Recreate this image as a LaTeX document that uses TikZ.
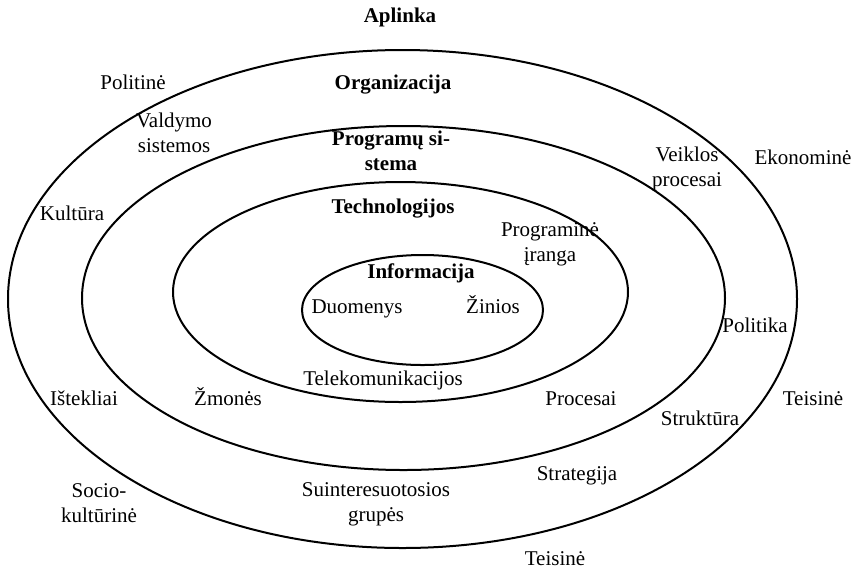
\documentclass[tikz,border=0pt]{standalone}
\usepackage{fontspec}
\setmainfont{LiberationSerif}[Extension=.ttf,UprightFont=*-Regular,BoldFont=*-Bold,ItalicFont=*-Italic,BoldItalicFont=*-BoldItalic]
\begin{document}
\begin{tikzpicture}[x=0.5pt,y=-0.5pt,
  ring/.style={line width=1pt},
  lbl/.style={inner sep=0pt,align=center,font=\fontsize{10.5}{12.5}\selectfont},
  head/.style={lbl,font=\fontsize{10.5}{12.5}\selectfont\bfseries},
  one/.style={anchor=base}]
\useasboundingbox (0,0) rectangle (856,569);
% nested layers
\draw[ring] (402.5,299) ellipse [x radius=197.25pt, y radius=124.5pt];
\draw[ring] (403.5,298) ellipse [x radius=160.75pt, y radius=86pt];
\draw[ring] (400.5,292) ellipse [x radius=113.75pt, y radius=55pt];
\draw[ring] (422.5,310) ellipse [x radius=60.25pt, y radius=27.5pt];
% layer titles (single lines placed on their baselines)
\node[head,one] (aplinka) at (400,22) {Aplinka};
\node[head,one] (org) at (393,89) {Organizacija};
\node[head] (prog) at (391,151) {Programų si-\\stema};
\node[head,one] (tech) at (393,213) {Technologijos};
\node[head,one] (info) at (421,278) {Informacija};
% environment
\node[lbl,one] (politine) at (133,89) {Politinė};
\node[lbl,one] (ekonomine) at (803,164) {Ekonominė};
\node[lbl,one] (kultura) at (72,220) {Kultūra};
\node[lbl,one] (istekliai) at (84,405) {Ištekliai};
\node[lbl,one] (teisineR) at (813,405) {Teisinė};
\node[lbl] (socio) at (99,503) {Socio-\\kultūrinė};
\node[lbl,one] (teisineB) at (555,565) {Teisinė};
% organization
\node[lbl] (valdymo) at (174,133) {Valdymo\\sistemos};
\node[lbl] (veiklos) at (687,169) {Veiklos\\procesai};
\node[lbl,one] (politika) at (755,332) {Politika};
\node[lbl,one] (struktura) at (700,425) {Struktūra};
\node[lbl,one] (strategija) at (577,480) {Strategija};
\node[lbl] (suint) at (376,504) {Suinteresuotosios\\grupės};
% software system
\node[lbl,one] (zmones) at (228,405) {Žmonės};
\node[lbl,one] (procesai) at (581,405) {Procesai};
% technologies
\node[lbl] (progiranga) at (550,244) {Programinė\\įranga};
\node[lbl,one] (telekom) at (383,385) {Telekomunikacijos};
% information
\node[lbl,one] (duomenys) at (357,313) {Duomenys};
\node[lbl,one] (zinios) at (493,313) {Žinios};
\end{tikzpicture}
\end{document}
